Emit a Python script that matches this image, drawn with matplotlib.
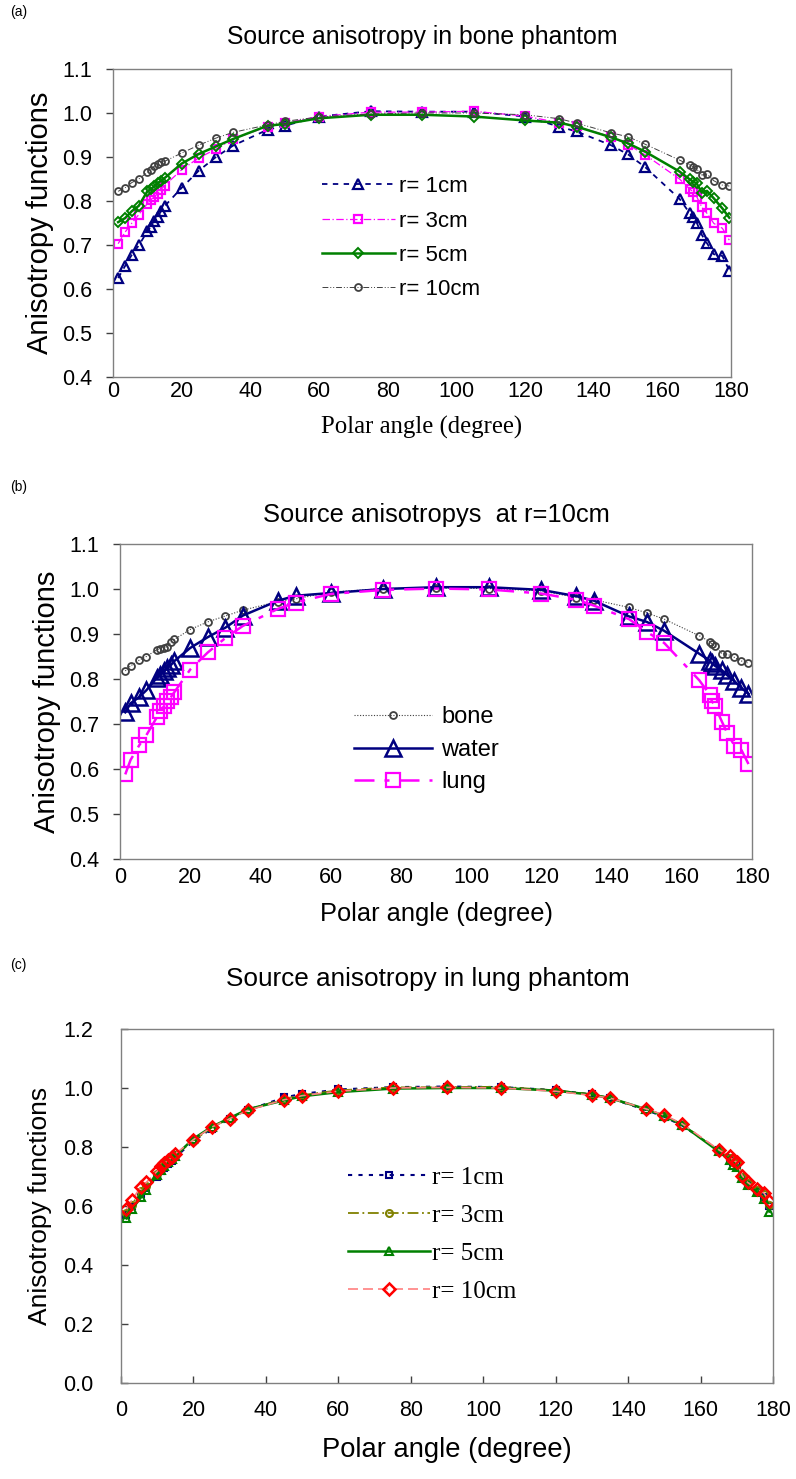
import matplotlib
matplotlib.use("Agg")
import matplotlib.pyplot as plt

# ---------------- data ----------------
# Panel (a): bone phantom, r = 1, 3, 5, 10 cm
angles_a = [1.5, 3.5, 5.5, 7.5, 10, 11, 12, 13, 14, 15, 20, 25, 30, 35, 45, 50, 60, 75, 90,
            105, 120, 130, 135, 145, 150, 155, 165, 168, 169, 170, 171.5, 173, 175, 177.5, 179.5]
bone_r1 = [0.625, 0.652, 0.678, 0.699, 0.731, 0.742, 0.754, 0.764, 0.777, 0.788, 0.830, 0.869, 0.900,
           0.926, 0.962, 0.971, 0.992, 1.004, 1.003, 1.003, 0.992, 0.969, 0.958, 0.927, 0.906, 0.877,
           0.805, 0.772, 0.764, 0.751, 0.723, 0.704, 0.679, 0.675, 0.642]
bone_r3 = [0.703, 0.729, 0.750, 0.769, 0.794, 0.803, 0.809, 0.817, 0.826, 0.835, 0.871, 0.898, 0.918,
           0.941, 0.969, 0.977, 0.992, 1.002, 1.002, 1.004, 0.993, 0.978, 0.970, 0.946, 0.928, 0.905,
           0.850, 0.827, 0.821, 0.810, 0.786, 0.772, 0.749, 0.738, 0.711]
bone_r5 = [0.752, 0.761, 0.777, 0.789, 0.822, 0.827, 0.833, 0.841, 0.846, 0.852, 0.885, 0.907, 0.924,
           0.941, 0.971, 0.975, 0.988, 0.996, 0.996, 0.992, 0.983, 0.978, 0.969, 0.945, 0.931, 0.912,
           0.867, 0.849, 0.844, 0.840, 0.819, 0.823, 0.806, 0.783, 0.762]
bone_r10 = [0.822, 0.830, 0.842, 0.850, 0.865, 0.871, 0.879, 0.884, 0.888, 0.890, 0.909, 0.927, 0.943,
            0.956, 0.973, 0.981, 0.991, 0.998, 1.000, 1.000, 0.996, 0.987, 0.977, 0.955, 0.946, 0.929,
            0.893, 0.882, 0.878, 0.872, 0.859, 0.861, 0.846, 0.836, 0.834]
labels_a = ["r= 1cm", "r= 3cm", "r= 5cm", "r= 10cm"]

# Panel (b): r = 10 cm, bone / water / lung
angles_b = [1.5, 3, 5.5, 7.5, 10.5, 11.5, 12.5, 13.5, 14.5, 15.5, 20, 25, 30, 35, 45, 50, 60, 75, 90,
            105, 120, 130, 135, 145, 150, 155, 165, 168, 168.5, 169.5, 171.5, 173, 175, 177, 179]
b_bone = [0.818, 0.829, 0.842, 0.850, 0.865, 0.867, 0.869, 0.872, 0.883, 0.888, 0.910, 0.927, 0.940,
          0.953, 0.972, 0.978, 0.993, 1.001, 1.002, 1.001, 0.996, 0.981, 0.976, 0.959, 0.947, 0.933,
          0.896, 0.883, 0.878, 0.873, 0.856, 0.855, 0.848, 0.840, 0.835]
b_water = [0.726, 0.746, 0.760, 0.775, 0.803, 0.809, 0.818, 0.824, 0.831, 0.840, 0.869, 0.893, 0.914,
           0.941, 0.974, 0.985, 0.991, 1.000, 1.004, 1.004, 0.998, 0.984, 0.974, 0.939, 0.927, 0.907,
           0.856, 0.841, 0.835, 0.829, 0.819, 0.808, 0.795, 0.780, 0.767]
b_lung = [0.588, 0.620, 0.653, 0.675, 0.715, 0.730, 0.739, 0.751, 0.760, 0.771, 0.821, 0.859, 0.891,
          0.918, 0.956, 0.970, 0.989, 0.998, 1.001, 0.999, 0.990, 0.976, 0.963, 0.933, 0.905, 0.880,
          0.797, 0.765, 0.752, 0.739, 0.704, 0.679, 0.652, 0.642, 0.611]
labels_b = ["bone", "water", "lung"]

# Panel (c): lung phantom, r = 1, 3, 5, 10 cm
angles_c = [1.5, 3, 5.5, 7, 10, 11, 12, 13, 14, 15, 20, 25, 30, 35, 45, 50, 60, 75, 90,
            105, 120, 130, 135, 145, 150, 155, 165, 168, 169, 170, 171.5, 173, 175.5, 177.5, 179]
lung_r1 = [0.570, 0.600, 0.640, 0.660, 0.700, 0.717, 0.730, 0.742, 0.752, 0.765, 0.820, 0.862, 0.895,
           0.925, 0.968, 0.980, 0.995, 1.003, 1.005, 1.003, 0.993, 0.978, 0.965, 0.925, 0.902, 0.872,
           0.790, 0.762, 0.748, 0.740, 0.700, 0.675, 0.652, 0.630, 0.600]
lung_r3 = [0.575, 0.605, 0.650, 0.668, 0.710, 0.727, 0.740, 0.751, 0.761, 0.772, 0.822, 0.865, 0.897,
           0.926, 0.963, 0.976, 0.992, 1.002, 1.003, 1.004, 0.992, 0.979, 0.966, 0.927, 0.906, 0.876,
           0.788, 0.762, 0.750, 0.745, 0.700, 0.678, 0.655, 0.640, 0.605]
lung_r5 = [0.558, 0.589, 0.629, 0.655, 0.705, 0.722, 0.735, 0.748, 0.758, 0.770, 0.828, 0.868, 0.898,
           0.928, 0.958, 0.972, 0.986, 0.998, 1.000, 1.000, 0.991, 0.977, 0.966, 0.928, 0.905, 0.875,
           0.785, 0.757, 0.740, 0.732, 0.695, 0.672, 0.648, 0.625, 0.581]
lung_r10 = [0.590, 0.620, 0.665, 0.680, 0.718, 0.734, 0.745, 0.755, 0.765, 0.777, 0.825, 0.867, 0.896,
            0.924, 0.960, 0.974, 0.989, 1.000, 1.002, 1.000, 0.989, 0.975, 0.966, 0.929, 0.908, 0.878,
            0.791, 0.768, 0.755, 0.748, 0.703, 0.680, 0.658, 0.644, 0.616]
labels_c = ["r= 1cm", "r= 3cm", "r= 5cm", "r= 10cm"]

xticks = [0, 20, 40, 60, 80, 100, 120, 140, 160, 180]

# ---------------- figure ----------------
W, H = 796, 1479
fig = plt.figure(figsize=(W / 100, H / 100), dpi=100)
SANS = "Liberation Sans"
SERIF = "Liberation Serif"


def add_ax(left, top, right, bottom):
    return fig.add_axes([left / W, 1 - bottom / H, (right - left) / W, (bottom - top) / H])


def style(ax, ylim, yticks, tickdir, xpad, ypad):
    ax.set_xlim(0, 180)
    ax.set_ylim(*ylim)
    ax.set_xticks(xticks)
    ax.set_yticks(yticks)
    ax.set_yticklabels(["{:.1f}".format(v) for v in yticks])
    for s in ax.spines.values():
        s.set_color("#808080")
        s.set_linewidth(1.0)
    ax.tick_params(axis="y", direction=tickdir, length=5, width=1, color="#404040",
                   labelsize=15.5, pad=ypad)
    ax.tick_params(axis="x", direction="in", length=0 if tickdir == "out" else 5, width=1,
                   color="#404040", labelsize=15.5, pad=xpad)
    for lab in ax.get_xticklabels() + ax.get_yticklabels():
        lab.set_fontfamily(SANS)


# ----- panel (a) -----
ax = add_ax(113, 69, 731, 377)
ax.plot(angles_a, bone_r1, color="#000080", ls=(0, (3, 3)), lw=1.3, marker="^", ms=7,
        mfc="none", mec="#000080", mew=1.6, label=labels_a[0])
ax.plot(angles_a, bone_r3, color="#FF00FF", ls=(0, (6, 2, 1, 2)), lw=0.9, marker="s", ms=6,
        mfc="none", mec="#FF00FF", mew=1.6, label=labels_a[1])
ax.plot(angles_a, bone_r5, color="#008000", ls="-", lw=1.8, marker="D", ms=5,
        mfc="none", mec="#008000", mew=1.4, label=labels_a[2])
ax.plot(angles_a, bone_r10, color="#404040", ls=(0, (6, 2, 1, 2, 1, 2)), lw=0.7, marker="o", ms=5,
        mfc="none", mec="#404040", mew=1.3, label=labels_a[3])
style(ax, (0.4, 1.1), [0.4, 0.5, 0.6, 0.7, 0.8, 0.9, 1.0, 1.1], "out", 3, 10)
ax.set_title("Source anisotropy in bone phantom", fontsize=17.8, fontfamily=SANS, pad=18)
ax.set_ylabel("Anisotropy functions", fontsize=21, fontfamily=SANS, labelpad=6)
ax.set_xlabel("Polar angle (degree)", fontsize=17.8, fontfamily=SERIF, labelpad=10)
ax.legend(loc="upper left", bbox_to_anchor=(0.3375, 0.652), frameon=False,
          prop={"family": SANS, "size": 16}, handlelength=3.3, handletextpad=0.2,
          labelspacing=0.6, borderaxespad=0, borderpad=0)
fig.text(10 / W, 1 - 12 / H, "(a)", fontsize=10, fontfamily=SANS, va="center", ha="left")

# ----- panel (b) -----
ax = add_ax(120, 544, 752, 859)
ax.plot(angles_b, b_bone, color="#404040", ls=(0, (1, 1.5)), lw=0.8, marker="o", ms=5,
        mfc="none", mec="#404040", mew=1.3, label=labels_b[0])
ax.plot(angles_b, b_water, color="#000080", ls="-", lw=1.8, marker="^", ms=11,
        mfc="none", mec="#000080", mew=1.8, label=labels_b[1])
ax.plot(angles_b, b_lung, color="#FF00FF", ls=(0, (8, 4, 2, 4)), lw=1.8, marker="s", ms=10,
        mfc="none", mec="#FF00FF", mew=1.6, label=labels_b[2])
style(ax, (0.4, 1.1), [0.4, 0.5, 0.6, 0.7, 0.8, 0.9, 1.0, 1.1], "out", 6, 10)
ax.set_title("Source anisotropys  at r=10cm", fontsize=18.4, fontfamily=SANS, pad=16)
ax.set_ylabel("Anisotropy functions", fontsize=21, fontfamily=SANS, labelpad=6)
ax.set_xlabel("Polar angle (degree)", fontsize=18.3, fontfamily=SANS, labelpad=10)
ax.legend(loc="upper left", bbox_to_anchor=(0.37, 0.485), frameon=False,
          prop={"family": SANS, "size": 17}, handlelength=3.3, handletextpad=0.4,
          labelspacing=0.45, borderaxespad=0, borderpad=0)
fig.text(10 / W, 1 - 487 / H, "(b)", fontsize=10, fontfamily=SANS, va="center", ha="left")

# ----- panel (c) -----
ax = add_ax(121, 1029, 773, 1383)
ax.plot(angles_c, lung_r1, color="#000080", ls=(0, (2, 3)), lw=1.5, marker="s", ms=5,
        mfc="none", mec="#000080", mew=1.5, label=labels_c[0])
ax.plot(angles_c, lung_r3, color="#808000", ls=(0, (6, 2, 1, 2)), lw=1.3, marker="o", ms=5,
        mfc="none", mec="#808000", mew=1.5, label=labels_c[1])
ax.plot(angles_c, lung_r5, color="#008000", ls="-", lw=1.8, marker="^", ms=6,
        mfc="none", mec="#008000", mew=1.5, label=labels_c[2])
ax.plot(angles_c, lung_r10, color="#FF8080", ls=(0, (6, 3)), lw=1.2, marker="D", ms=6,
        mfc="none", mec="#FF0000", mew=1.8, label=labels_c[3])
style(ax, (0.0, 1.2), [0.0, 0.2, 0.4, 0.6, 0.8, 1.0, 1.2], "in", 12, 20)
ax.set_title("Source anisotropy in lung phantom", fontsize=18.8, fontfamily=SANS, pad=31,
             x=0.471)
ax.set_ylabel("Anisotropy functions", fontsize=19, fontfamily=SANS, labelpad=8)
ax.set_xlabel("Polar angle (degree)", fontsize=19.7, fontfamily=SANS, labelpad=12)
ax.legend(loc="upper left", bbox_to_anchor=(0.348, 0.612), frameon=False,
          prop={"family": SERIF, "size": 18}, handlelength=3.3, handletextpad=0.05,
          labelspacing=0.62, borderaxespad=0, borderpad=0)
fig.text(10 / W, 1 - 965 / H, "(c)", fontsize=10, fontfamily=SANS, va="center", ha="left")

fig.savefig("out.png", dpi=100)
